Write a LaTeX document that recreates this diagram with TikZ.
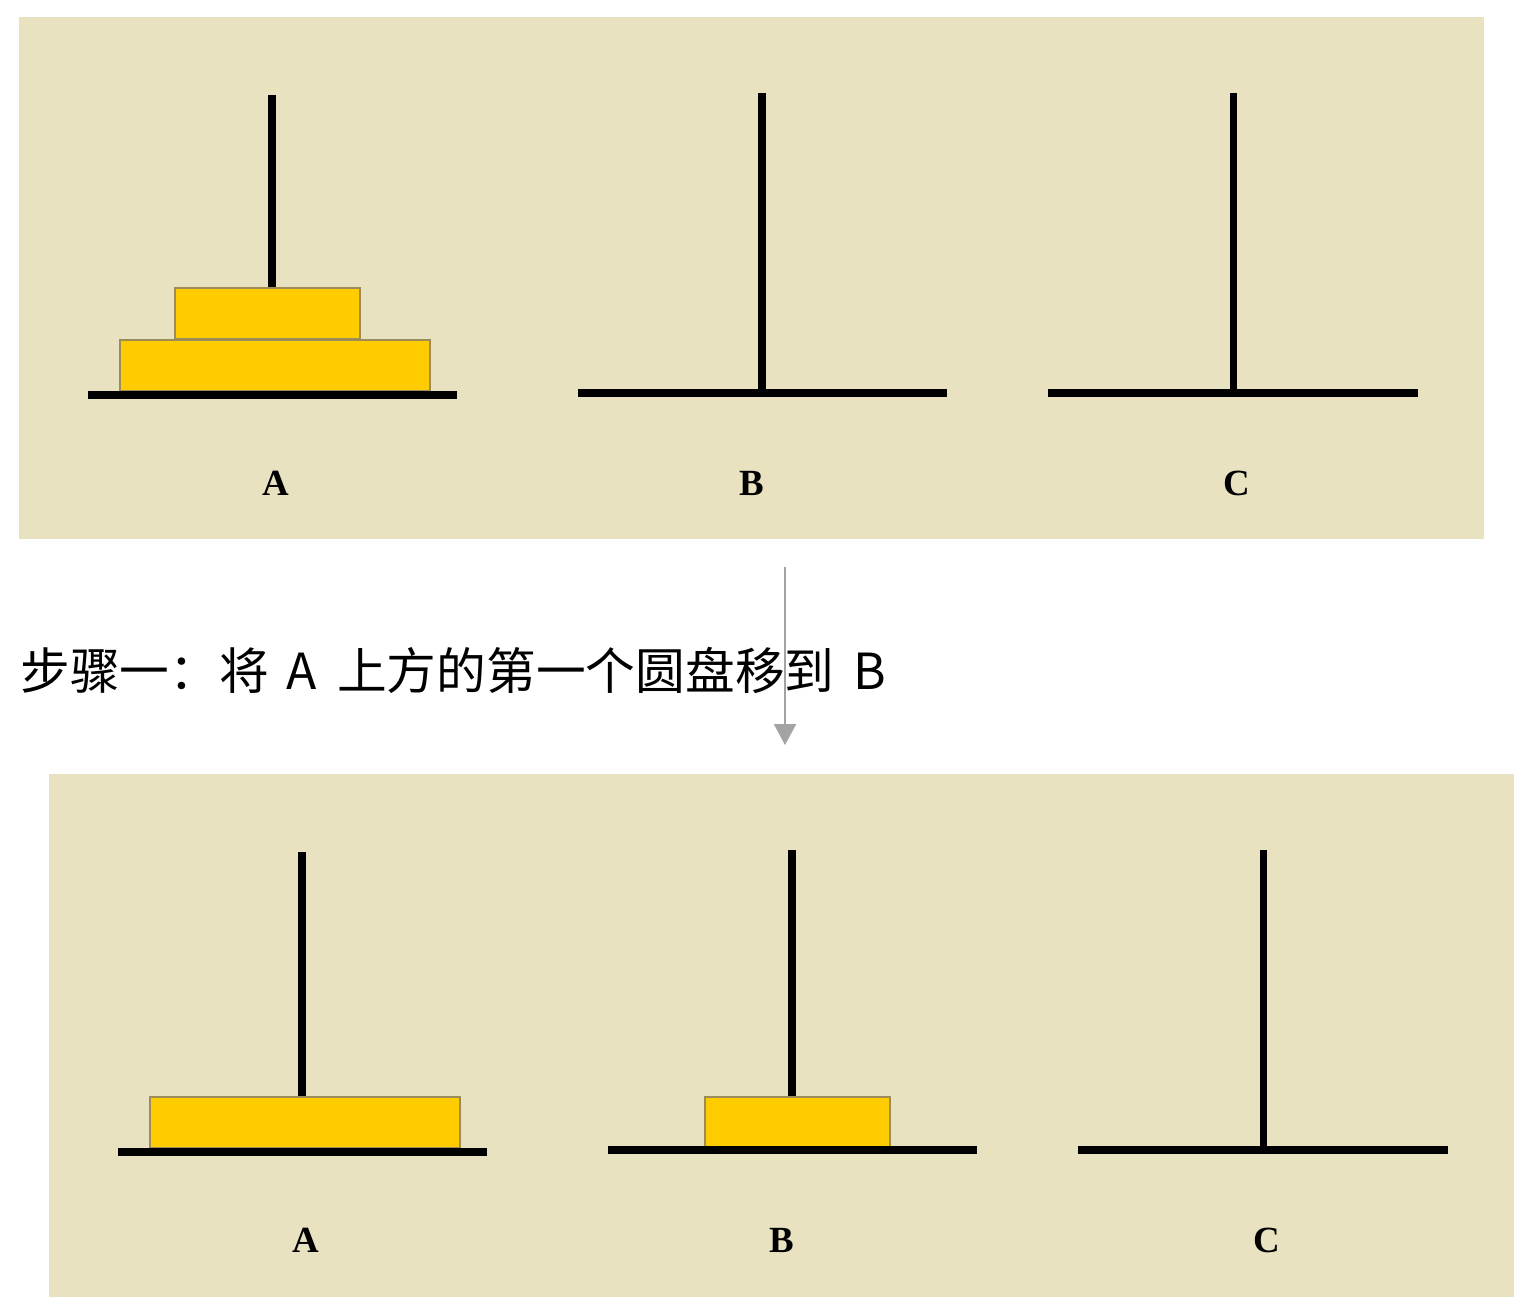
\documentclass[tikz,border=0pt]{standalone}
\usepackage{fontspec}
\setmainfont{Liberation Serif}
\newfontfamily\cjk{Noto Sans CJK SC}
\usetikzlibrary{arrows.meta}
\definecolor{panelbg}{HTML}{E8E2C1}
\definecolor{diskfill}{HTML}{FFCC00}
\definecolor{diskedge}{HTML}{9C8C5A}
\definecolor{arrowgray}{HTML}{A3A3A3}
\tikzset{
  panel/.style={fill=panelbg, draw=none},
  pole/.style={line width=4pt, black},
  base/.style={line width=4.3pt, black},
  disk/.style={fill=diskfill, draw=diskedge, line width=0.8pt},
  peglabel/.style={font=\bfseries\fontsize{21}{24}\selectfont, inner sep=0pt, anchor=center},
  steptext/.style={font=\cjk\fontsize{28.3}{32}\selectfont, inner sep=0pt, anchor=west},
  movearrow/.style={draw=arrowgray, line width=1.2pt, -{Triangle[length=0.42cm,width=0.44cm]}}
}
\begin{document}
\begin{tikzpicture}[x=0.02cm,y=-0.02cm]
\useasboundingbox (0,0) rectangle (1531,1308);
\fill[white] (0,0) rectangle (1531,1308);
% ---------- top panel ----------
\fill[panel] (19,17) rectangle (1484,539);
\coordinate (tAtop) at (272,95);  \coordinate (tAbot) at (272,393);
\coordinate (tAl) at (88,395);    \coordinate (tAr) at (457,395);
\coordinate (tBtop) at (762,93);  \coordinate (tBbot) at (762,393);
\coordinate (tBl) at (578,393);   \coordinate (tBr) at (947,393);
\coordinate (tCtop) at (1233,93); \coordinate (tCbot) at (1233,393);
\coordinate (tCl) at (1048,393);  \coordinate (tCr) at (1418,393);
\draw[pole] (tAtop) -- (tAbot);
\draw[pole] (tBtop) -- (tBbot);
\draw[pole] (tCtop) -- (tCbot);
\draw[disk] (175,288) rectangle (360,339);
\draw[disk] (120,340) rectangle (430,391);
\draw[base] (tAl) -- (tAr);
\draw[base] (tBl) -- (tBr);
\draw[base] (tCl) -- (tCr);
\node[peglabel] (tlA) at (276,483) {A};
\node[peglabel] (tlB) at (752,483) {B};
\node[peglabel] (tlC) at (1237,483) {C};
% ---------- caption ----------
\node[steptext] (cap) at (20,670) {步骤一：将 \hspace{3.5pt}A \hspace{5.5pt}上方的第一个圆盘移到 \hspace{4.5pt}B};
% ---------- arrow ----------
\coordinate (arrS) at (785,567);
\coordinate (arrE) at (785,745);
\draw[movearrow] (arrS) -- (arrE);
% ---------- bottom panel ----------
\fill[panel] (49,774) rectangle (1514,1297);
\coordinate (bAtop) at (302,852);  \coordinate (bAbot) at (302,1150);
\coordinate (bAl) at (118,1152);   \coordinate (bAr) at (487,1152);
\coordinate (bBtop) at (792,850);  \coordinate (bBbot) at (792,1150);
\coordinate (bBl) at (608,1150);   \coordinate (bBr) at (977,1150);
\coordinate (bCtop) at (1263,850); \coordinate (bCbot) at (1263,1150);
\coordinate (bCl) at (1078,1150);  \coordinate (bCr) at (1448,1150);
\draw[pole] (bAtop) -- (bAbot);
\draw[pole] (bBtop) -- (bBbot);
\draw[pole] (bCtop) -- (bCbot);
\draw[disk] (150,1097) rectangle (460,1148);
\draw[disk] (705,1097) rectangle (890,1147);
\draw[base] (bAl) -- (bAr);
\draw[base] (bBl) -- (bBr);
\draw[base] (bCl) -- (bCr);
\node[peglabel] (blA) at (306,1240) {A};
\node[peglabel] (blB) at (782,1240) {B};
\node[peglabel] (blC) at (1267,1240) {C};
\end{tikzpicture}
\end{document}
